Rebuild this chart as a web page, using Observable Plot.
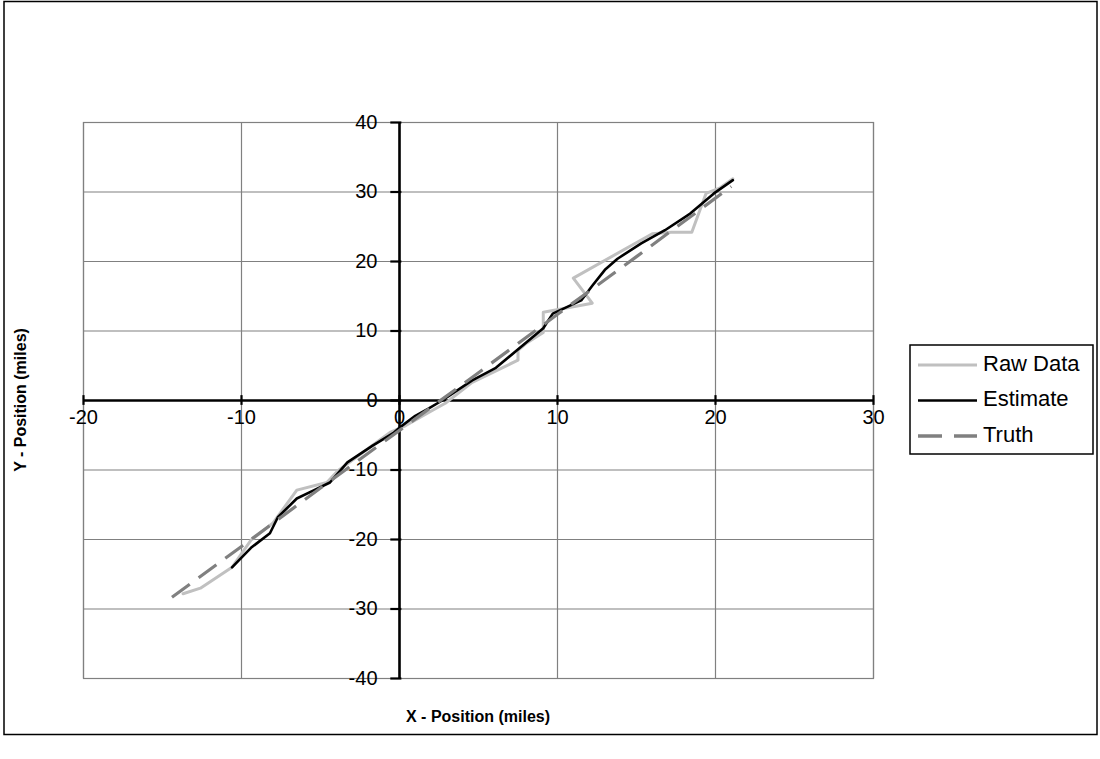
<!DOCTYPE html>
<html>
<head>
<meta charset="utf-8">
<script src="https://cdn.jsdelivr.net/npm/d3@7"></script>
<script src="https://cdn.jsdelivr.net/npm/@observablehq/plot@0.6"></script>
<style>
  html, body { margin: 0; padding: 0; background: #fff; }
  #chart { width: 1100px; height: 759px; }
</style>
</head>
<body>
<div id="chart"></div>
<script>
// Axis ticks
const xTicks = [-20, -10, 0, 10, 20, 30];
const yTicks = [-40, -30, -20, -10, 0, 10, 20, 30, 40];

// Raw measurements (miles)
const rawX = [-13.7, -12.6, -10.6, -9.4, -8.0, -6.5, -4.6, -3.9, -0.6, 0.4, 2.1, 2.9, 4.6, 6.5, 7.5, 7.5, 8.0, 9.1, 9.1, 12.2, 11.0, 16.0, 17.2, 18.5, 19.4, 20.3, 21.1];
const rawY = [-27.8, -27.0, -24.0, -20.1, -17.6, -12.9, -11.8, -10.1, -4.6, -3.6, -1.4, -0.4, 2.6, 4.7, 5.8, 7.2, 8.2, 9.8, 12.7, 14.0, 17.6, 24.0, 24.2, 24.2, 29.8, 30.6, 31.9];

// Filter estimate (miles)
const estX = [-10.6, -9.4, -8.2, -7.7, -6.5, -5.4, -4.4, -3.3, -1.7, -0.4, 0.0, 1.0, 1.8, 2.7, 4.6, 6.1, 8.0, 9.1, 9.7, 11.5, 12.2, 13.0, 13.8, 15.3, 16.8, 18.4, 19.9, 21.1];
const estY = [-24.0, -21.2, -19.1, -16.8, -14.1, -12.9, -11.8, -8.9, -6.5, -4.7, -3.9, -2.2, -1.2, 0.0, 2.9, 4.7, 8.3, 10.4, 12.5, 14.4, 16.5, 18.8, 20.4, 22.6, 24.5, 26.9, 29.8, 31.7];

// True track (miles)
const truthX = [-14.4, -10, -5, 0, 5, 10, 15, 21.0];
const truthY = [-28.3, -21.0, -12.6, -4.3, 4.0, 12.4, 20.7, 30.8];

const toRows = (xs, ys) => xs.map((x, i) => ({x, y: ys[i]}));
const raw = toRows(rawX, rawY);
const est = toRows(estX, estY);
const truth = toRows(truthX, truthY);

const FONT = "'Liberation Sans', Arial, Helvetica, sans-serif";
const RAW_COLOR = "#c0c0c0";
const EST_COLOR = "#000000";
const TRUTH_COLOR = "#808080";
const TRUTH_DASH = "22,11";

const chart = Plot.plot({
  width: 1100,
  height: 759,
  marginLeft: 83,
  marginRight: 227,
  marginTop: 122,
  marginBottom: 81,
  style: {fontFamily: FONT, background: "#fff", overflow: "visible"},
  x: {domain: [-20, 30], axis: null},
  y: {domain: [-40, 40], axis: null},
  marks: [
    Plot.gridX(xTicks, {stroke: "#808080", strokeOpacity: 1, strokeWidth: 1.2}),
    Plot.gridY(yTicks, {stroke: "#808080", strokeOpacity: 1, strokeWidth: 1.2}),
    Plot.frame({stroke: "#808080", strokeWidth: 1.2}),
    // axes crossing at the origin
    Plot.ruleX([0], {stroke: "#000", strokeWidth: 2.6}),
    Plot.ruleY([0], {stroke: "#000", strokeWidth: 2.6}),
    Plot.ruleX(xTicks, {x: d => d, y1: -0.7, y2: 0.7, stroke: "#000", strokeWidth: 2.2}),
    Plot.ruleY(yTicks, {y: d => d, x1: -0.55, x2: 0.15, stroke: "#000", strokeWidth: 2.2}),
    // series
    Plot.line(raw, {x: "x", y: "y", stroke: RAW_COLOR, strokeWidth: 3}),
    Plot.line(est, {x: "x", y: "y", stroke: EST_COLOR, strokeWidth: 2.6}),
    Plot.line(truth, {x: "x", y: "y", stroke: TRUTH_COLOR, strokeWidth: 3.2, strokeDasharray: TRUTH_DASH, strokeLinecap: "butt"}),
    // tick labels
    Plot.text(xTicks, {x: d => d, y: 0, dy: 17, text: d => String(d), fontSize: 20, fill: "#000"}),
    Plot.text(yTicks, {x: 0, y: d => d, dx: -22, textAnchor: "end", text: d => String(d), fontSize: 20, fill: "#000"})
  ]
});

document.getElementById("chart").appendChild(chart);

const svg = d3.select(chart);

// outer chart border
svg.append("rect")
  .attr("x", 4).attr("y", 1.5).attr("width", 1093).attr("height", 733)
  .attr("fill", "none").attr("stroke", "#000").attr("stroke-width", 1.5);

// axis titles
svg.append("text")
  .attr("x", 478).attr("y", 718)
  .attr("text-anchor", "middle").attr("dominant-baseline", "middle")
  .attr("font-family", FONT).attr("font-size", 16).attr("font-weight", "bold")
  .text("X - Position (miles)");

svg.append("text")
  .attr("transform", "translate(22,400) rotate(-90)")
  .attr("text-anchor", "middle").attr("dominant-baseline", "middle")
  .attr("font-family", FONT).attr("font-size", 16).attr("font-weight", "bold")
  .text("Y - Position (miles)");

// legend
const legendItems = [
  {label: "Raw Data", color: RAW_COLOR, width: 3, dash: null},
  {label: "Estimate", color: EST_COLOR, width: 2.6, dash: null},
  {label: "Truth", color: TRUTH_COLOR, width: 3.5, dash: "24,12"}
];
const lg = svg.append("g").attr("transform", "translate(910,345)");
lg.append("rect")
  .attr("x", 0).attr("y", 0).attr("width", 183).attr("height", 109)
  .attr("fill", "#fff").attr("stroke", "#000").attr("stroke-width", 1.5);
legendItems.forEach((d, i) => {
  const y = 20 + i * 35.5;
  lg.append("line")
    .attr("x1", 8).attr("x2", 67).attr("y1", y).attr("y2", y)
    .attr("stroke", d.color).attr("stroke-width", d.width)
    .attr("stroke-dasharray", d.dash);
  lg.append("text")
    .attr("x", 73).attr("y", y)
    .attr("text-anchor", "start")
    .attr("dominant-baseline", "middle")
    .attr("font-family", FONT).attr("font-size", 22)
    .text(d.label);
});
</script>
</body>
</html>
